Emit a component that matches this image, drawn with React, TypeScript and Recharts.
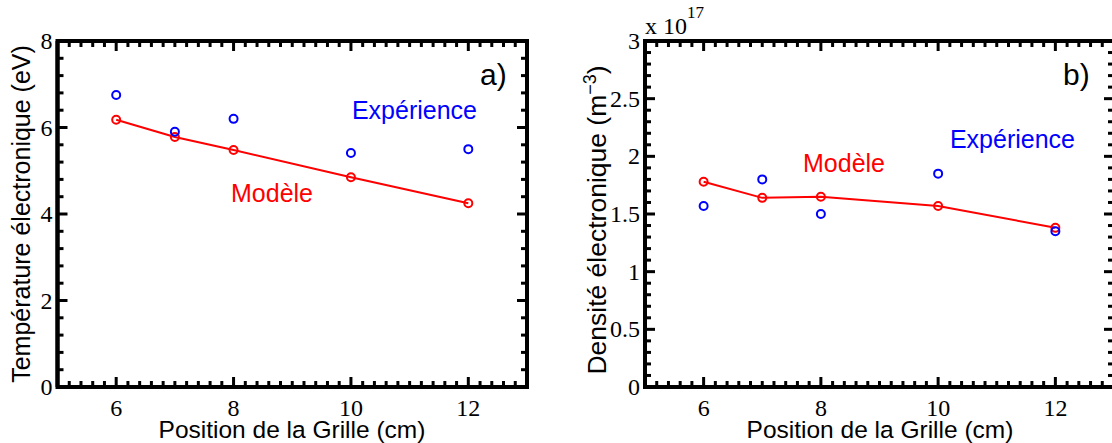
import React from "react";
import { LineChart, Line, XAxis, YAxis, ReferenceArea } from "recharts";

// grid positions (cm)
const positions = [6, 7, 8, 10, 12];

// a) electron temperature (eV)
const tempModele = [6.18, 5.78, 5.48, 4.85, 4.25];
const tempExperience = [6.75, 5.9, 6.2, 5.41, 5.5];

// b) electron density (x 1e17 m^-3)
const densModele = [1.78, 1.64, 1.65, 1.57, 1.38];
const densExperience = [1.57, 1.8, 1.5, 1.85, 1.35];

const xMajor = [6, 8, 10, 12];
const tempMajor = [0, 2, 4, 6, 8];
const densMajor = [0, 0.5, 1, 1.5, 2, 2.5, 3];

const RED = "#ff0000";
const BLUE = "#0000ff";
const SERIF = "'Liberation Serif', 'Times New Roman', serif";
const SANS = "'Liberation Sans', Arial, sans-serif";

function allTicks(min: number, max: number, step: number, majors: number[]) {
  const out: number[] = [];
  const n = Math.round((max - min) / step);
  for (let i = 1; i < n; i++) out.push(Math.round((min + i * step) * 1000) / 1000);
  majors.forEach((m) => {
    if (m > min && m < max && !out.some((v) => Math.abs(v - m) < 1e-6)) out.push(m);
  });
  return out.sort((a, b) => a - b);
}

function makeTick(side: "bottom" | "top" | "left" | "right", majors: number[], labels: boolean) {
  return (props: any) => {
    const x = Number(props.x);
    const y = Number(props.y);
    const v = Number(props.payload.value);
    const major = majors.some((m) => Math.abs(m - v) < 1e-6);
    const len = major ? 10 : 6;
    let x2 = x, y2 = y;
    if (side === "bottom") y2 = y - len;
    if (side === "top") y2 = y + len;
    if (side === "left") x2 = x + len;
    if (side === "right") x2 = x - len;
    const edge = side === "left" || side === "right" ? false : v <= 5 || v >= 13;
    return (
      <g>
        {!edge && <path d={`M${x},${y}L${x2},${y2}`} stroke="#000" strokeWidth={3} fill="none" />}
        {labels && major && side === "bottom" && (
          <text x={x} y={y + 29} textAnchor="middle" fontFamily={SERIF} fontSize={24} fill="#000">
            {String(v)}
          </text>
        )}
        {labels && major && side === "left" && (
          <text x={x - 5} y={y + 8} textAnchor="end" fontFamily={SERIF} fontSize={24} fill="#000">
            {String(v)}
          </text>
        )}
      </g>
    );
  };
}

interface PanelProps {
  rows: { x: number; modele: number; experience: number }[];
  width: number;
  yAxisWidth: number;
  marginRight: number;
  yMax: number;
  yMajor: number[];
  yMinorStep: number;
  children?: React.ReactNode;
}

function Panel({ rows, width, yAxisWidth, marginRight, yMax, yMajor, yMinorStep, children }: PanelProps) {
  const xTicks = allTicks(5, 13, 0.2, xMajor);
  const yTicks = allTicks(0, yMax, yMinorStep, yMajor);
  const yLabelTicks = [...yTicks, 0, yMax].sort((a, b) => a - b);
  const axisProps = { stroke: "#000", strokeWidth: 4, tickSize: 0, tickMargin: 0, tickLine: false, interval: 0 as const, allowDataOverflow: true };
  return (
    <LineChart width={width} height={443} data={rows} margin={{ top: 40, right: marginRight, bottom: 0, left: 0 }}>
      <XAxis xAxisId="b" type="number" dataKey="x" domain={[5, 13]} ticks={xTicks} height={56}
        {...axisProps} tick={makeTick("bottom", xMajor, true)} />
      <XAxis xAxisId="t" orientation="top" type="number" dataKey="x" domain={[5, 13]} ticks={xTicks} height={1}
        {...axisProps} tick={makeTick("top", xMajor, false)} />
      <YAxis yAxisId="l" type="number" domain={[0, yMax]} ticks={yLabelTicks} width={yAxisWidth}
        {...axisProps} tick={makeTick("left", yMajor, true)} />
      <YAxis yAxisId="r" orientation="right" type="number" domain={[0, yMax]} ticks={yTicks} width={1}
        {...axisProps} tick={makeTick("right", yMajor, false)} />
      <ReferenceArea xAxisId="b" yAxisId="l" x1={5} x2={13} y1={0} y2={yMax}
        fill="none" fillOpacity={0} stroke="#000" strokeWidth={4} ifOverflow="visible" />
      <Line xAxisId="b" yAxisId="l" dataKey="modele" stroke={RED} strokeWidth={2}
        dot={{ r: 4, stroke: RED, strokeWidth: 2, fill: "none" }} activeDot={false} isAnimationActive={false} />
      <Line xAxisId="b" yAxisId="l" dataKey="experience" stroke="none" strokeWidth={0}
        dot={{ r: 4, stroke: BLUE, strokeWidth: 2, fill: "none" }} activeDot={false} isAnimationActive={false} />
      {children}
    </LineChart>
  );
}

const tempRows = positions.map((x, i) => ({ x, modele: tempModele[i], experience: tempExperience[i] }));
const densRows = positions.map((x, i) => ({ x, modele: densModele[i], experience: densExperience[i] }));

export default function App() {
  return (
    <div style={{ position: "absolute", left: 0, top: 0, width: 1112, height: 443, overflow: "hidden", background: "#fff" }}>
      <div style={{ position: "absolute", left: 0, top: 0 }}>
        <Panel rows={tempRows} width={560} yAxisWidth={57.5} marginRight={32} yMax={8} yMajor={tempMajor} yMinorStep={0.4}>
          <text transform="translate(30,214) rotate(-90)" textAnchor="middle" fontFamily={SANS} fontSize={25} fill="#000">
            Température électronique (eV)
          </text>
          <text x={292} y={438} textAnchor="middle" fontFamily={SANS} fontSize={24.5} fill="#000">
            Position de la Grille (cm)
          </text>
          <text x={480} y={85} fontFamily={SANS} fontSize={30} fill="#000">a)</text>
          <text x={477} y={119} textAnchor="end" fontFamily={SANS} fontSize={25} fill={BLUE}>Expérience</text>
          <text x={231} y={202} fontFamily={SANS} fontSize={25} fill={RED}>Modèle</text>
        </Panel>
      </div>
      <div style={{ position: "absolute", left: 580, top: 0 }}>
        <Panel rows={densRows} width={540} yAxisWidth={65} marginRight={5} yMax={3} yMajor={densMajor} yMinorStep={0.1}>
          <text transform="translate(26,220) rotate(-90)" textAnchor="middle" fontFamily={SANS} fontSize={26.5} fill="#000">
            Densité électronique (m<tspan dy={-10} fontSize={18}>−3</tspan><tspan dy={10}>)</tspan>
          </text>
          <text x={300} y={438} textAnchor="middle" fontFamily={SANS} fontSize={24.5} fill="#000">
            Position de la Grille (cm)
          </text>
          <text x={65} y={34} fontFamily={SERIF} fontSize={24} fill="#000">
            x 10<tspan dy={-16} fontSize={17}>17</tspan>
          </text>
          <text x={483} y={85} fontFamily={SANS} fontSize={30} fill="#000">b)</text>
          <text x={495} y={148} textAnchor="end" fontFamily={SANS} fontSize={25} fill={BLUE}>Expérience</text>
          <text x={223} y={172} fontFamily={SANS} fontSize={25} fill={RED}>Modèle</text>
        </Panel>
      </div>
    </div>
  );
}
